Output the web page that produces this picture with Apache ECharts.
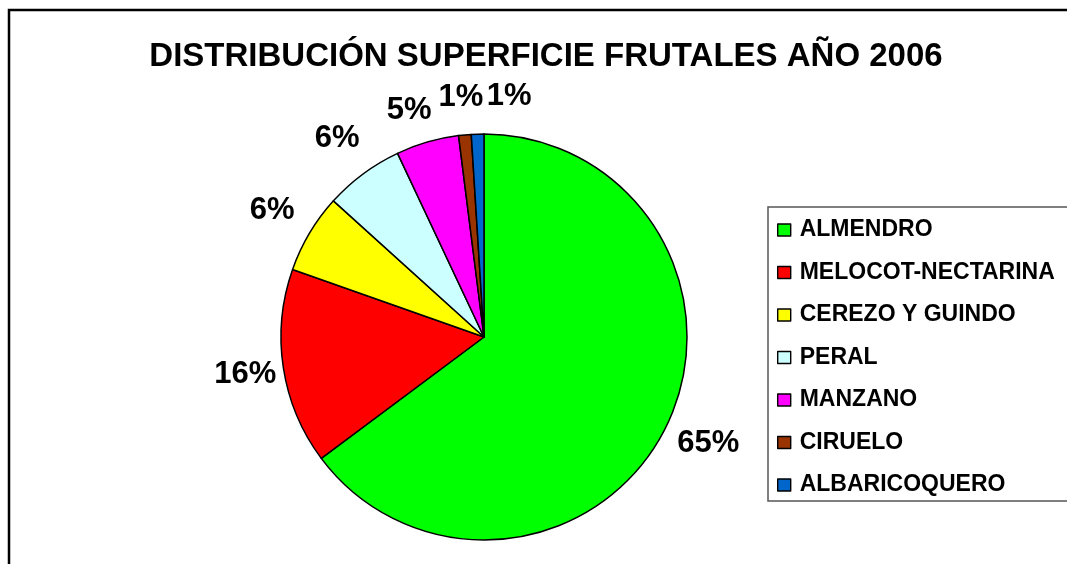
<!DOCTYPE html>
<html>
<head>
<meta charset="utf-8">
<title>Distribución superficie frutales 2006</title>
<script src="https://cdn.jsdelivr.net/npm/echarts@6/dist/echarts.min.js"></script>
<style>
  html, body { margin: 0; padding: 0; background: #fff; }
  #chart { width: 1067px; height: 564px; }
</style>
</head>
<body>
<div id="chart"></div>
<script>
const titleText = "DISTRIBUCIÓN SUPERFICIE FRUTALES AÑO 2006";
const categories = ["ALMENDRO", "MELOCOT-NECTARINA", "CEREZO Y GUINDO", "PERAL", "MANZANO", "CIRUELO", "ALBARICOQUERO"];
const shares = [64.8, 15.6, 6.3, 6.3, 5.0, 1.0, 1.0];
const colors = ["#00ff00", "#ff0000", "#ffff00", "#ccffff", "#ff00ff", "#993300", "#0066cc"];

const FONT = "'Liberation Sans', Arial, sans-serif";
const CENTER = [484, 337];

const pieData = categories.map((name, i) => ({ name: name, value: shares[i] }));

const option = {
  backgroundColor: "#fff",
  animation: false,
  color: colors,
  title: {
    text: titleText,
    left: 541,
    top: 35,
    textAlign: "center",
    textStyle: { fontFamily: FONT, fontSize: 33, fontWeight: "bold", color: "#000" },
  },
  graphic: [
    {
      // outer chart frame, runs off the right and bottom edge
      type: "rect",
      shape: { x: 9, y: 10, width: 1100, height: 600 },
      style: { fill: "none", stroke: "#000", lineWidth: 2.5 },
      silent: true,
      z: -1,
    },
  ],
  legend: {
    orient: "vertical",
    left: 768,
    top: 207,
    data: categories,
    icon: "rect",
    itemWidth: 13,
    itemHeight: 12,
    itemGap: 19.5,
    padding: [11.5, 60, 4.5, 9],
    borderColor: "#555",
    borderWidth: 1.5,
    selectedMode: false,
    itemStyle: { borderColor: "#000", borderWidth: 1.4 },
    textStyle: {
      fontFamily: FONT,
      fontSize: 23,
      fontWeight: "bold",
      color: "#000",
      lineHeight: 23,
      padding: [0, 0, 0, 4],
    },
  },
  series: [
    {
      name: "superficie",
      type: "pie",
      center: CENTER,
      radius: [0, 203],
      startAngle: 90,
      clockwise: true,
      silent: true,
      data: pieData,
      itemStyle: { borderColor: "#000", borderWidth: 1.5 },
      label: { show: false },
      labelLine: { show: false },
    },
    {
      // invisible ring that carries the percentage labels just outside the pie
      name: "etiquetas",
      type: "pie",
      center: CENTER,
      radius: [203, 284],
      startAngle: 90,
      clockwise: true,
      silent: true,
      data: pieData,
      itemStyle: { color: "rgba(0,0,0,0)", borderWidth: 0 },
      label: {
        show: true,
        position: "inside",
        formatter: (p) => Math.round(p.percent) + "%",
        fontFamily: FONT,
        fontSize: 31,
        fontWeight: "bold",
        color: "#000",
      },
      labelLine: { show: false },
      labelLayout: function (p) {
        // small slices at the top: pull the labels apart like the original
        if (p.dataIndex === 0) return { dx: 4, dy: -4 };
        if (p.dataIndex === 1) return { dx: 5 };
        if (p.dataIndex === 4) return { dx: -6, dy: 10 };
        if (p.dataIndex === 5) return { dy: 6 };
        if (p.dataIndex === 6) return { dx: 33, dy: 6 };
        return {};
      },
    },
  ],
};

const chart = echarts.init(document.getElementById("chart"));
chart.setOption(option);
</script>
</body>
</html>
